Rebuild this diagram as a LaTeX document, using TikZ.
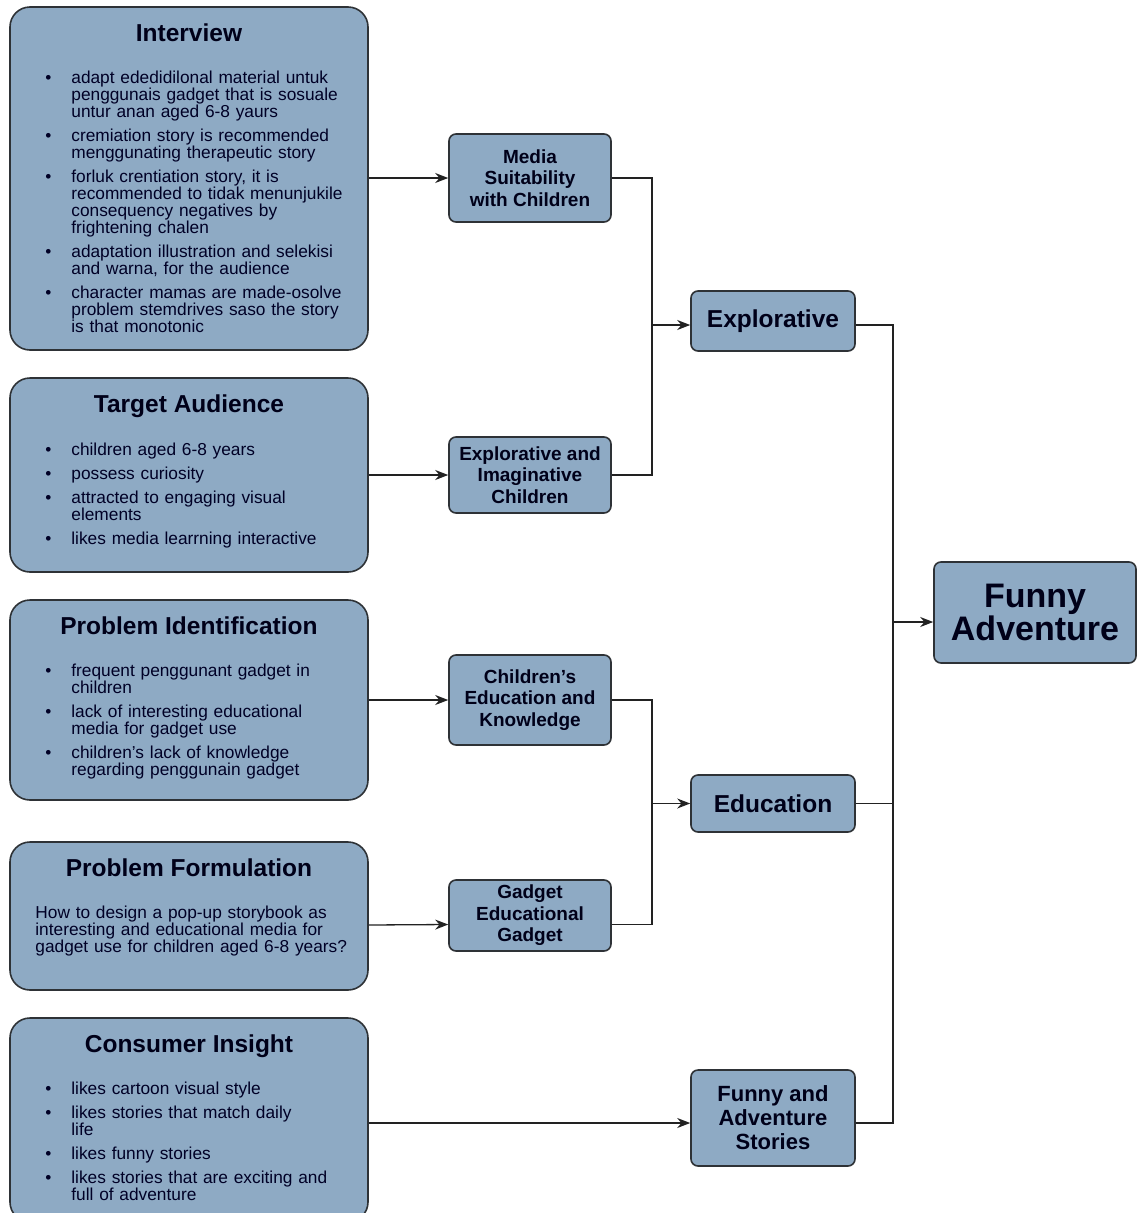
\documentclass[tikz,border=0pt]{standalone}
\usepackage{fontspec}
\setmainfont{Liberation Sans}
\usepackage{tikz}
\usetikzlibrary{positioning, arrows.meta}
\definecolor{boxfill}{HTML}{8EAAC4}
\definecolor{boxline}{HTML}{2E3236}
\definecolor{linkcol}{HTML}{222222}
\newcommand{\bitem}[1]{\par\hangindent=26pt\hangafter=1\noindent\makebox[26pt][l]{\textbullet}#1\par}
\tikzset{
>={Stealth[length=13pt, width=10pt]}, % filled arrow heads
bigbox/.style={draw=boxline, fill=boxfill, line width=1.6pt, rounded corners=20pt, minimum width=358pt},
smallbox/.style={draw=boxline, fill=boxfill, line width=1.6pt, rounded corners=7pt, minimum width=162pt, align=center, text=black!90!blue, font=\bfseries\fontsize{19}{21.5}\selectfont},
headtext/.style={inner sep=0pt, text=black!90!blue, font=\bfseries\fontsize{24.5}{28}\selectfont},
listtext/.style={inner sep=0pt, text width=330pt, align=left, text=black!85!blue, font=\fontsize{17.3}{17}\selectfont},
link/.style={draw=linkcol, line width=1.3pt},
}
\begin{document}
\begin{tikzpicture}[x=1pt, y=-1pt]
\clip (0,0) rectangle (1140,1213);
\fill[white] (0,0) rectangle (1140,1213);
% left column
\node[bigbox, minimum height=343pt] (intv) at (189,178.5) {};
\node[headtext, below=17pt of intv.north] (intvhead) {Interview};
\node[listtext, below right=53pt and 36pt of intv.north west] (intvlist) {\setlength{\parskip}{7pt}%
\bitem{adapt ededidilonal material untuk\newline penggunais gadget that is sosuale\newline untur anan aged 6-8 yaurs}
\bitem{cremiation story is recommended\newline menggunating therapeutic story}
\bitem{forluk crentiation story, it is\newline recommended to tidak menunjukile\newline consequency negatives by\newline frightening chalen}
\bitem{adaptation illustration and selekisi\newline and warna, for the audience}
\bitem{character mamas are made-osolve\newline problem stemdrives saso the story\newline is that monotonic}};
\node[bigbox, minimum height=194pt] (aud) at (189,475) {};
\node[headtext, below=17pt of aud.north] (audhead) {Target Audience};
\node[listtext, below right=54pt and 36pt of aud.north west] (audlist) {\setlength{\parskip}{7pt}%
\bitem{children aged 6-8 years}
\bitem{possess curiosity}
\bitem{attracted to engaging visual\newline elements}
\bitem{likes media learrning interactive}};
\node[bigbox, minimum height=200pt] (pid) at (189,700) {};
\node[headtext, below=17pt of pid.north] (pidhead) {Problem Identification};
\node[listtext, below right=53pt and 36pt of pid.north west] (pidlist) {\setlength{\parskip}{7pt}%
\bitem{frequent penggunant gadget in\newline children}
\bitem{lack of interesting educational\newline media for gadget use}
\bitem{children’s lack of knowledge\newline regarding penggunain gadget}};
\node[bigbox, minimum height=148pt] (pform) at (189,916) {};
\node[headtext, below=17pt of pform.north] (pformhead) {Problem Formulation};
\node[listtext, below right=65pt and 26pt of pform.north west] (pformtext) {How to design a pop-up storybook as\newline interesting and educational media for\newline gadget use for children aged 6-8 years?\par};
\node[bigbox, minimum height=204pt] (cins) at (189,1120) {};
\node[headtext, below=17pt of cins.north] (cinshead) {Consumer Insight};
\node[listtext, below right=53pt and 36pt of cins.north west] (cinslist) {\setlength{\parskip}{7pt}%
\bitem{likes cartoon visual style}
\bitem{likes stories that match daily\newline life}
\bitem{likes funny stories}
\bitem{likes stories that are exciting and\newline full of adventure}};
% middle column
\node[smallbox, minimum height=88pt] (media) at (530,178) {Media\\Suitability\\with Children};
\node[smallbox, minimum height=76pt] (imag) at (530,475) {Explorative and\\Imaginative\\Children};
\node[smallbox, minimum height=90pt] (cedu) at (530,700) {Children’s\\Education and\\Knowledge};
\node[smallbox, minimum height=71pt] (gadget) at (530,915.5) {Gadget\\Educational\\Gadget};
% right columns
\node[smallbox, minimum width=164pt, minimum height=60pt, font=\bfseries\fontsize{24.5}{28}\selectfont] (expl) at (773,321) {Explorative};
\node[smallbox, minimum width=164pt, minimum height=57pt, font=\bfseries\fontsize{24.5}{28}\selectfont] (edu) at (773,803.5) {Education};
\node[smallbox, minimum width=164pt, minimum height=96pt, font=\bfseries\fontsize{22}{24}\selectfont] (stories) at (773,1118) {Funny and\\Adventure\\Stories};
\node[smallbox, minimum width=202pt, minimum height=101pt, font=\bfseries\fontsize{34}{33}\selectfont] (fadv) at (1035,612.5) {Funny\\Adventure};
\coordinate (jexp) at (652,325);
\coordinate (jedu) at (652,803.5);
\coordinate (jfun) at (893,622);
% connectors
\draw[link, ->] (intv.east |- media) -- (media);
\draw[link, ->] (aud) -- (imag);
\draw[link, ->] (pid) -- (cedu);
\draw[link, ->] ([yshift=-9pt]pform.east) -- ([yshift=-9pt]gadget.west);
\draw[link, ->] (cins.east |- 0,1123) -- (stories.west |- 0,1123);
\draw[link] (media) -| (jexp);
\draw[link] (imag) -| (jexp);
\draw[link, ->] (jexp) -- (expl.west |- jexp);
\draw[link] (cedu) -| (jedu);
\draw[link] ([yshift=-9pt]gadget.east) -| (jedu);
\draw[link, ->] (jedu) -- (edu);
\draw[link] (expl.east |- jexp) -| (jfun);
\draw[link] (edu) -| (jfun);
\draw[link] (stories.east |- 0,1123) -| (jfun);
\draw[link, ->] (jfun) -- (fadv.west |- jfun);
\end{tikzpicture}
\end{document}
